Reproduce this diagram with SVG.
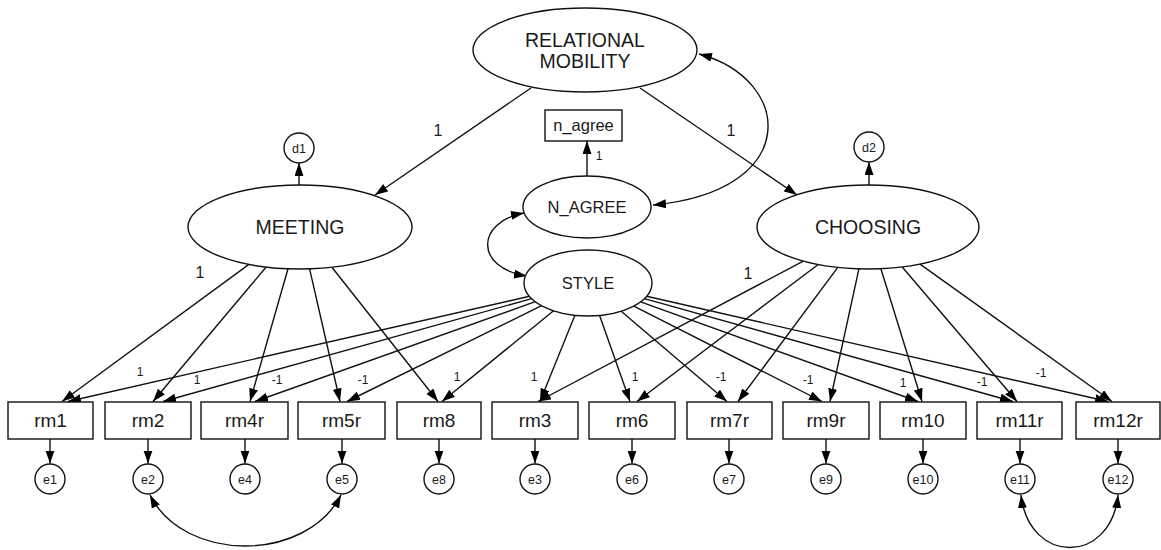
<svg xmlns="http://www.w3.org/2000/svg" width="1161" height="550" viewBox="0 0 1161 550">
<defs>
<marker id="ah" markerUnits="userSpaceOnUse" markerWidth="14" markerHeight="10" refX="13" refY="4.5" orient="auto-start-reverse" viewBox="0 0 14 10">
<path d="M0,0 L13,4.5 L0,9 Z" fill="#000"/>
</marker>
</defs>
<style>
text{font-family:"Liberation Sans",Arial,Helvetica,sans-serif;fill:#1a1a1a;text-anchor:middle}
.n ellipse,.n circle,.n rect{fill:#fff;stroke:#111;stroke-width:1.4}
.c line,.c path{stroke:#111;stroke-width:1.4;fill:none;marker-end:url(#ah)}
.c .b{marker-start:url(#ah)}
.big{font-size:19.5px}
.mid{font-size:16.5px}
.box{font-size:19px}
.err{font-size:12.5px}
.lab{font-size:12px}
.lab2{font-size:16px}
</style>
<g class="c" id="connectors">
<line x1="531" y1="88" x2="375" y2="195"/>
<line x1="640" y1="88" x2="797" y2="195"/>
<path class="b" d="M699 54 C793 79 803 191 653 205"/>
<line x1="587" y1="176" x2="587" y2="141"/>
<path class="b" d="M524 213 C476 222 474 268 527 276"/>
<line x1="299" y1="185" x2="299" y2="163"/>
<line x1="869" y1="185" x2="869" y2="162"/>
<!-- MEETING -->
<line x1="248.9" y1="264.4" x2="62" y2="401.5"/>
<line x1="266.2" y1="267" x2="153" y2="401.5"/>
<line x1="288" y1="268.8" x2="250" y2="401.5"/>
<line x1="309.6" y1="268.8" x2="340" y2="401.5"/>
<line x1="331.9" y1="267.3" x2="438" y2="401.5"/>
<!-- CHOOSING -->
<line x1="803.3" y1="261.1" x2="538" y2="401.5"/>
<line x1="818.2" y1="264.5" x2="637" y2="401.5"/>
<line x1="837.8" y1="267.4" x2="738" y2="401.5"/>
<line x1="858.9" y1="268.9" x2="830" y2="401.5"/>
<line x1="880.9" y1="268.7" x2="922" y2="401.5"/>
<line x1="902.2" y1="267" x2="1017" y2="401.5"/>
<line x1="920" y1="264.1" x2="1112" y2="401.5"/>
<!-- STYLE -->
<line x1="529.4" y1="296.3" x2="68" y2="401.5"/>
<line x1="531.6" y1="298.6" x2="163" y2="401.5"/>
<line x1="535.3" y1="301.7" x2="255" y2="401.5"/>
<line x1="541.6" y1="305.7" x2="347" y2="401.5"/>
<line x1="553.6" y1="310.8" x2="442" y2="401.5"/>
<line x1="574.9" y1="315.3" x2="540" y2="401.5"/>
<line x1="599.6" y1="315.5" x2="630" y2="401.5"/>
<line x1="621.2" y1="311.2" x2="727" y2="401.5"/>
<line x1="633.8" y1="306.1" x2="822" y2="401.5"/>
<line x1="640.6" y1="301.8" x2="918" y2="401.5"/>
<line x1="644.4" y1="298.6" x2="1013" y2="401.5"/>
<line x1="646.6" y1="296.3" x2="1108" y2="401.5"/>
<!-- errors -->
<line x1="50" y1="439" x2="50" y2="463.5"/>
<line x1="148" y1="439" x2="148" y2="463.5"/>
<line x1="245" y1="439" x2="245" y2="463.5"/>
<line x1="342" y1="439" x2="342" y2="463.5"/>
<line x1="439" y1="439" x2="439" y2="463.5"/>
<line x1="535" y1="439" x2="535" y2="463.5"/>
<line x1="632" y1="439" x2="632" y2="463.5"/>
<line x1="729" y1="439" x2="729" y2="463.5"/>
<line x1="826" y1="439" x2="826" y2="463.5"/>
<line x1="923" y1="439" x2="923" y2="463.5"/>
<line x1="1020" y1="439" x2="1020" y2="463.5"/>
<line x1="1118" y1="439" x2="1118" y2="463.5"/>
<path class="b" d="M150 495 C184 563 306 563 341 495"/>
<path class="b" d="M1021 495 C1029 565 1111 565 1118 495"/>
<!-- labels -->
<text class="lab2" x="438" y="136">1</text>
<text class="lab2" x="731" y="136">1</text>
<text class="lab" x="599" y="160">1</text>
<text class="lab2" x="200" y="278">1</text>
<text class="lab2" x="748" y="279">1</text>
<text class="lab" x="140" y="376">1</text>
<text class="lab" x="197" y="384">1</text>
<text class="lab" x="277" y="384">-1</text>
<text class="lab" x="363" y="384">-1</text>
<text class="lab" x="457" y="381">1</text>
<text class="lab" x="534" y="381">1</text>
<text class="lab" x="635" y="381">1</text>
<text class="lab" x="721" y="381">-1</text>
<text class="lab" x="808" y="384">-1</text>
<text class="lab" x="903" y="387">1</text>
<text class="lab" x="982" y="386">-1</text>
<text class="lab" x="1041" y="377">-1</text>
</g>
<g class="n" id="relational_mobility"><ellipse cx="585" cy="50" rx="112" ry="42"/><text class="big" x="585" y="47">RELATIONAL</text><text class="big" x="585" y="68">MOBILITY</text></g>
<g class="n" id="n_agree_obs"><rect x="545" y="110" width="77" height="31"/><text class="mid" x="583.5" y="131">n_agree</text></g>
<g class="n" id="N_AGREE"><ellipse cx="587" cy="207" rx="64" ry="31"/><text class="mid" x="587" y="213">N_AGREE</text></g>
<g class="n" id="STYLE"><ellipse cx="588" cy="283" rx="64" ry="33"/><text class="mid" x="588" y="289">STYLE</text></g>
<g class="n" id="MEETING"><ellipse cx="300" cy="227" rx="112" ry="42"/><text class="big" x="300" y="234">MEETING</text></g>
<g class="n" id="CHOOSING"><ellipse cx="868" cy="227" rx="111" ry="42"/><text class="big" x="868" y="234">CHOOSING</text></g>
<g class="n" id="d1"><circle cx="299" cy="148" r="15"/><text class="err" x="299" y="152.5">d1</text></g>
<g class="n" id="d2"><circle cx="869" cy="147" r="15"/><text class="err" x="869" y="151.5">d2</text></g>
<g class="n" id="rm1"><rect x="8" y="402" width="85" height="37"/><text class="box" x="50.5" y="427">rm1</text></g>
<g class="n" id="rm2"><rect x="105" y="402" width="86" height="37"/><text class="box" x="148" y="427">rm2</text></g>
<g class="n" id="rm4r"><rect x="201" y="402" width="87" height="37"/><text class="box" x="244.5" y="427">rm4r</text></g>
<g class="n" id="rm5r"><rect x="298" y="402" width="87" height="37"/><text class="box" x="341.5" y="427">rm5r</text></g>
<g class="n" id="rm8"><rect x="397" y="402" width="84" height="37"/><text class="box" x="439" y="427">rm8</text></g>
<g class="n" id="rm3"><rect x="492" y="402" width="86" height="37"/><text class="box" x="535" y="427">rm3</text></g>
<g class="n" id="rm6"><rect x="589" y="402" width="86" height="37"/><text class="box" x="632" y="427">rm6</text></g>
<g class="n" id="rm7r"><rect x="687" y="402" width="85" height="37"/><text class="box" x="729.5" y="427">rm7r</text></g>
<g class="n" id="rm9r"><rect x="783" y="402" width="86" height="37"/><text class="box" x="826" y="427">rm9r</text></g>
<g class="n" id="rm10"><rect x="880" y="402" width="86" height="37"/><text class="box" x="923" y="427">rm10</text></g>
<g class="n" id="rm11r"><rect x="977" y="402" width="85" height="37"/><text class="box" x="1019.5" y="427">rm11r</text></g>
<g class="n" id="rm12r"><rect x="1076" y="402" width="84" height="37"/><text class="box" x="1118" y="427">rm12r</text></g>
<g class="n" id="e1"><circle cx="50" cy="479" r="15"/><text class="err" x="50" y="483.5">e1</text></g>
<g class="n" id="e2"><circle cx="148" cy="479" r="15"/><text class="err" x="148" y="483.5">e2</text></g>
<g class="n" id="e4"><circle cx="245" cy="479" r="15"/><text class="err" x="245" y="483.5">e4</text></g>
<g class="n" id="e5"><circle cx="342" cy="479" r="15"/><text class="err" x="342" y="483.5">e5</text></g>
<g class="n" id="e8"><circle cx="439" cy="479" r="15"/><text class="err" x="439" y="483.5">e8</text></g>
<g class="n" id="e3"><circle cx="535" cy="479" r="15"/><text class="err" x="535" y="483.5">e3</text></g>
<g class="n" id="e6"><circle cx="632" cy="479" r="15"/><text class="err" x="632" y="483.5">e6</text></g>
<g class="n" id="e7"><circle cx="729" cy="479" r="15"/><text class="err" x="729" y="483.5">e7</text></g>
<g class="n" id="e9"><circle cx="826" cy="479" r="15"/><text class="err" x="826" y="483.5">e9</text></g>
<g class="n" id="e10"><circle cx="923" cy="479" r="15"/><text class="err" x="923" y="483.5">e10</text></g>
<g class="n" id="e11"><circle cx="1020" cy="479" r="15"/><text class="err" x="1020" y="483.5">e11</text></g>
<g class="n" id="e12"><circle cx="1118" cy="479" r="15"/><text class="err" x="1118" y="483.5">e12</text></g>
</svg>
